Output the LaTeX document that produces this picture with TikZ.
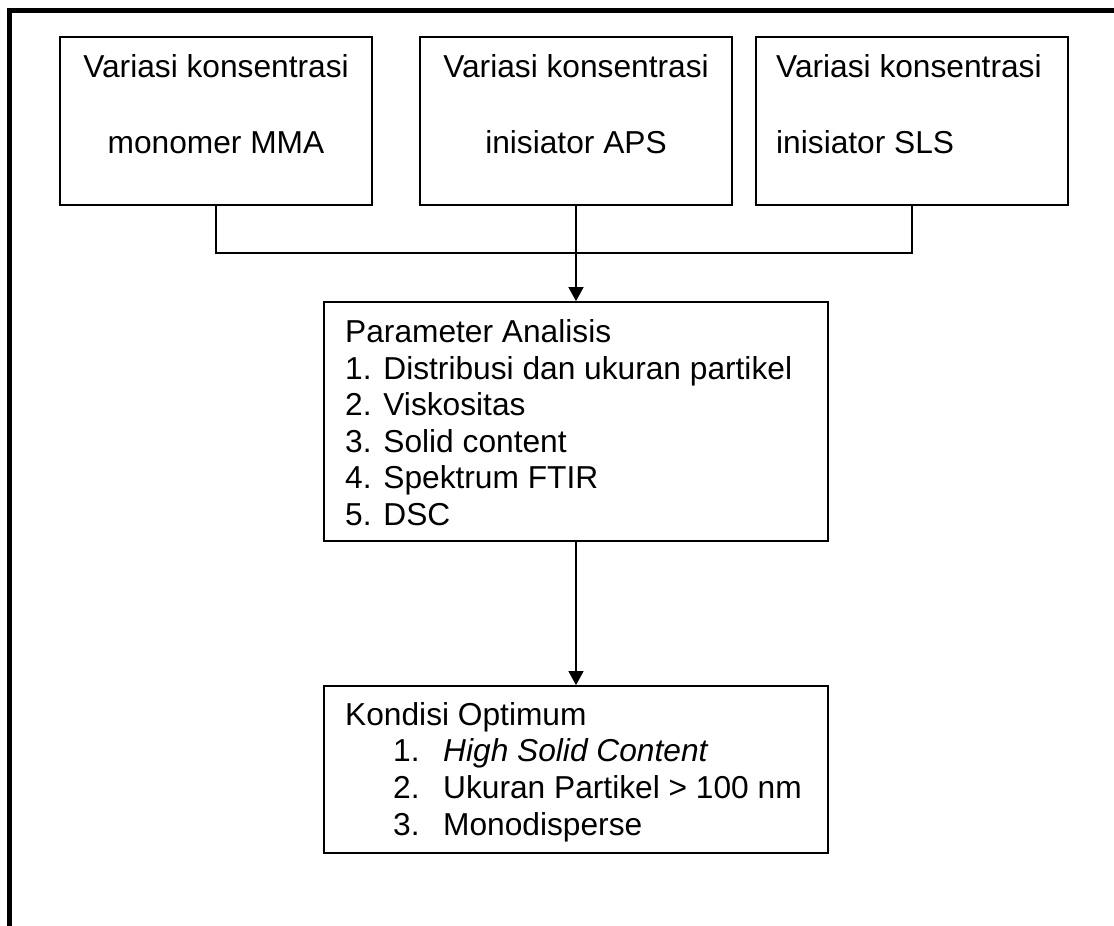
\documentclass[tikz,border=0pt]{standalone}
\usepackage{fontspec}
\setmainfont{Liberation Sans}
\usetikzlibrary{arrows.meta}
\begin{document}
\begin{tikzpicture}[x=1pt,y=-1pt,
  box/.style={draw, line width=1.8pt, inner sep=0pt, rectangle},
  txt/.style={inner sep=0pt, font=\fontsize{31.7}{36.6}\selectfont},
  conn/.style={line width=1.8pt},
  arr/.style={line width=1.8pt, -{Triangle[length=14pt,width=15pt]}},
  frame/.style={line width=5.5pt}
]
\useasboundingbox (0,0) rectangle (1114,926);
\fill[white] (0,0) rectangle (1114,926);
% page frame
\draw[frame] (9.7,926) -- (9.7,10.7) -- (1114,10.7);

% top boxes
\node[box, minimum width=312pt, minimum height=168pt] (b1) at (216,121) {};
\node[box, minimum width=312pt, minimum height=168pt] (b2) at (576,121) {};
\node[box, minimum width=312pt, minimum height=168pt] (b3) at (912,121) {};

\node[txt, anchor=base] (b1a) at (216,77) {Variasi konsentrasi};
\node[txt, anchor=base] (b1b) at (216,153) {monomer MMA};
\node[txt, anchor=base] (b2a) at (576,77) {Variasi konsentrasi};
\node[txt, anchor=base] (b2b) at (576,153) {inisiator APS};
\node[txt, anchor=base west] (b3a) at (776,77) {Variasi konsentrasi};
\node[txt, anchor=base west] (b3b) at (776,153) {inisiator SLS};

% parameter box
\node[box, minimum width=504pt, minimum height=239pt] (p) at (576,421.5) {};
\node[txt, anchor=base west] (p0) at (345,342.5) {Parameter Analisis};
\node[txt, anchor=base west] (p1) at (345,379) {1. Distribusi dan ukuran partikel};
\node[txt, anchor=base west] (p2) at (345,415.5) {2. Viskositas};
\node[txt, anchor=base west] (p3) at (345,452) {3. Solid content};
\node[txt, anchor=base west] (p4) at (345,488.5) {4. Spektrum FTIR};
\node[txt, anchor=base west] (p5) at (345,525) {5. DSC};

% kondisi box
\node[box, minimum width=504pt, minimum height=167pt] (k) at (576,769.5) {};
\node[txt, anchor=base west] (k0) at (345,725) {Kondisi Optimum};
\node[txt, anchor=base west] (k1n) at (393,761.7) {1.};
\node[txt, anchor=base west] (k1) at (443,761.7) {\itshape High Solid Content};
\node[txt, anchor=base west] (k2n) at (393,798.4) {2.};
\node[txt, anchor=base west] (k2) at (443,798.4) {Ukuran Partikel > 100 nm};
\node[txt, anchor=base west] (k3n) at (393,835) {3.};
\node[txt, anchor=base west] (k3) at (443,835) {Monodisperse};

% connectors
\coordinate (j) at (576,253);
\draw[conn] (b1.south) |- (j) -| (b3.south);
\draw[arr] (b2.south) -- (p.north);
\draw[arr, line width=1.6pt] (p.south) -- (k.north);
\end{tikzpicture}
\end{document}
